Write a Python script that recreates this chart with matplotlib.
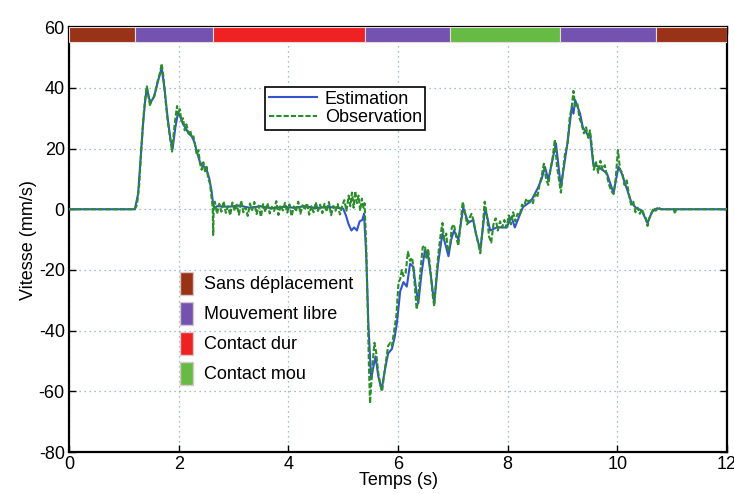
import matplotlib
matplotlib.use("Agg")
import matplotlib.pyplot as plt
from matplotlib.patches import Patch

plt.rcParams["font.family"] = ["Liberation Sans", "DejaVu Sans"]
plt.rcParams["font.size"] = 13
plt.rcParams["axes.unicode_minus"] = False

# phases de la tâche (bande du haut)
phase_debut = [0, 1.2, 2.63, 5.4, 6.95, 8.96, 10.71]
phase_fin = [1.2, 2.63, 5.4, 6.95, 8.96, 10.71, 12]
phase_type = ["Sans déplacement", "Mouvement libre", "Contact dur", "Mouvement libre",
              "Contact mou", "Mouvement libre", "Sans déplacement"]
phase_noms = ["Sans déplacement", "Mouvement libre", "Contact dur", "Contact mou"]
phase_couleurs = ["#993318", "#7352b0", "#ee2222", "#66bb44"]

# vitesse estimée
t_est = [0, 1.2, 1.26, 1.3, 1.35, 1.39, 1.42, 1.48, 1.55, 1.62, 1.69, 1.74, 1.8, 1.85, 1.89,
         1.94, 1.99, 2.04, 2.08, 2.12, 2.18, 2.24, 2.29, 2.33, 2.38, 2.42, 2.47, 2.51, 2.56,
         2.6, 2.63, 2.66, 2.7, 2.9, 3.1, 3.3, 3.5, 3.7, 3.9, 4.1, 4.3, 4.5, 4.7, 4.9, 5.0,
         5.05, 5.1, 5.15, 5.2, 5.25, 5.3, 5.35, 5.38, 5.42, 5.46, 5.51, 5.55, 5.59, 5.64,
         5.7, 5.76, 5.82, 5.89, 5.94, 5.98, 6.04, 6.1, 6.16, 6.22, 6.28, 6.32, 6.37, 6.43,
         6.49, 6.55, 6.6, 6.66, 6.73, 6.81, 6.87, 6.92, 6.97, 7.02, 7.1, 7.19, 7.28, 7.37,
         7.42, 7.5, 7.59, 7.68, 7.8, 7.98, 8.07, 8.13, 8.28, 8.41, 8.45, 8.55, 8.62, 8.68,
         8.74, 8.88, 8.97, 9.08, 9.17, 9.2, 9.23, 9.32, 9.37, 9.47, 9.5, 9.56, 9.65, 9.74,
         9.81, 9.93, 10.02, 10.08, 10.18, 10.26, 10.35, 10.44, 10.55, 10.63, 10.72, 10.8, 12]
v_est = [0, 0, 5, 15, 28, 36, 40, 35, 37, 42, 46.5, 40, 30, 23, 20,
         27, 32, 30, 28, 27, 25, 24, 22, 19, 16, 14.5, 14, 13, 10,
         6, 1.5, 0.5, 1, 0.8, 1.2, 0.5, 1.0, 0.3, 0.8, 0.5, 1.0, 0.4, 0.8, 0.5, 0.2,
         -2, -5, -7, -6, -7, -4, -3.5, -1.5, -15, -38, -56, -52, -48.5, -55,
         -59.5, -53, -47.5, -46, -42, -37.5, -27, -24, -25.5, -18, -19, -25, -31, -21,
         -13.5, -15.5, -22, -31, -18, -8, -12, -15.5, -10, -7, -10, 0.5, -4.5, -3.5,
         -8, -13.5, 0.5, -7, -6, -6, -2.5, -6, 0.8, 2.4, 3.5, 7, 10, 14,
         9.6, 21.7, 7.3, 20.5, 33.7, 31.5, 36, 31.5, 27, 24.3, 25, 15, 14, 12.8,
         11.8, 5.3, 14, 11.8, 6.3, 2, 0.3, -0.3, -4.6, -0.9, 0.3, 0, 0]

# vitesse observée
t_obs = [0, 1.2, 1.24, 1.28, 1.32, 1.36, 1.4, 1.42, 1.45, 1.48, 1.51, 1.55, 1.58, 1.62, 1.66,
         1.69, 1.72, 1.76, 1.8, 1.84, 1.88, 1.91, 1.94, 1.97, 1.99, 2.02, 2.05, 2.08, 2.11,
         2.14, 2.18, 2.21, 2.24, 2.27, 2.3, 2.33, 2.36, 2.39, 2.42, 2.45, 2.48, 2.51, 2.54,
         2.57, 2.6, 2.62, 2.63, 2.64,
         2.66, 2.7, 2.74, 2.78, 2.82, 2.86, 2.9, 2.94, 2.98, 3.02, 3.06, 3.1, 3.14, 3.18,
         3.22, 3.26, 3.3, 3.34, 3.38, 3.42, 3.46, 3.5, 3.54, 3.58, 3.62, 3.66, 3.7, 3.74,
         3.78, 3.82, 3.86, 3.9, 3.94, 3.98, 4.02, 4.06, 4.1, 4.14, 4.18, 4.22, 4.26, 4.3,
         4.34, 4.38, 4.42, 4.46, 4.5, 4.54, 4.58, 4.62, 4.66, 4.7, 4.74, 4.78, 4.82, 4.86,
         4.9, 4.94, 4.98, 5.02, 5.06, 5.1, 5.13, 5.16, 5.19, 5.22, 5.25, 5.28, 5.31, 5.34,
         5.37, 5.39,
         5.42, 5.45, 5.47, 5.49, 5.51, 5.54, 5.57, 5.6, 5.64, 5.68, 5.71, 5.75, 5.79, 5.82,
         5.86, 5.89, 5.93, 5.97, 6.01, 6.04, 6.07, 6.1, 6.14, 6.18, 6.22, 6.26, 6.3, 6.34,
         6.37, 6.41, 6.45, 6.49, 6.52, 6.55, 6.59, 6.63, 6.66, 6.7, 6.74, 6.78, 6.81, 6.84,
         6.88, 6.91, 6.95, 6.98, 7.02, 7.06, 7.1, 7.14, 7.18, 7.22, 7.26, 7.3, 7.34, 7.38,
         7.42, 7.46, 7.5, 7.54, 7.58, 7.62, 7.66, 7.7, 7.74, 7.78, 7.82, 7.86, 7.9, 7.94,
         7.98, 8.02, 8.06, 8.1, 8.14, 8.18, 8.22, 8.26, 8.3, 8.34, 8.38,
         8.42, 8.46, 8.5, 8.54, 8.58, 8.62, 8.66, 8.7, 8.74, 8.78, 8.82, 8.86, 8.9, 8.94,
         8.97, 9.01, 9.05, 9.09, 9.13, 9.17, 9.2, 9.23, 9.27, 9.31, 9.35, 9.39, 9.43, 9.47,
         9.5, 9.54, 9.57, 9.61, 9.65, 9.69, 9.73, 9.77, 9.81, 9.85, 9.89, 9.93, 9.97, 10.01,
         10.05, 10.09, 10.13, 10.17, 10.21, 10.25, 10.29, 10.33, 10.37, 10.41, 10.45, 10.49,
         10.52, 10.55, 10.58, 10.62, 10.66, 10.7, 10.75, 10.8, 11.03, 11.05, 11.07, 12]
v_obs = [0, 0, 1.5, 8, 20, 31, 38, 40.5, 37, 34, 36.5, 37, 39, 42.5, 45,
         48, 44, 36, 29, 24, 19, 25, 30, 34, 31, 33, 29, 30, 26,
         28, 25, 26, 23.5, 24, 21, 18, 19.5, 15, 13, 15.5, 12.5, 14, 10,
         8.5, 4, 0.5, -8.5, 2,
         2.5, -1.5, 1.8, -0.8, 2.6, -1.2, 1.0, -2.0, 2.2, -0.5, 1.5, -1.8, 2.8, -1.0,
         0.6, -2.2, 1.9, -0.3, 2.4, -1.6, 1.2, -2.5, 1.7, -0.9, 2.0, -1.4, 0.8, -0.6,
         2.7, -1.9, 1.4, -0.4, 2.1, -1.1, 1.6, -2.3, 0.9, -0.7, 2.5, -1.5, 1.3, -0.2,
         2.0, -1.8, 1.0, -1.0, 2.3, -0.6, 1.5, -1.3, 1.8, -0.8, 2.4, -2.0, 1.1, -0.5,
         1.7, -1.7, 0.9, 3.0, -0.5, 4.5, 1.0, 5.5, 0.5, 6.0, 2.0, 4.5, -0.5, 3.5,
         0.5, 2.0,
         -12, -35, -52, -64, -58, -50, -44, -47, -54, -58, -60, -54, -49, -45,
         -44, -45, -40, -35, -24, -23, -20, -22, -21, -14, -17, -16, -24, -33,
         -29, -20, -12.5, -12, -16, -13, -20, -28, -32, -22, -14, -8, -4.5, -10,
         -8, -14, -12, -6, -5, -9, -12, -5, 2.5, -1, -5, -3, -1.5, -4,
         -8, -11, -14.5, -7, 2.5, -2, -9, -11, -5, -3, -7, -4, -6, -3.5,
         -6, -2, -5, -1, -4, -1.5, -2, 1.5, 1, 3.5, 2.5,
         3, 2, 5, 4, 8, 11, 15, 10, 8, 13, 17, 23, 14, 9,
         5.5, 13, 19, 21, 30, 34, 39, 34, 35, 30, 28, 25, 27, 23.5,
         26, 20, 13, 15.5, 12, 16, 13, 14.5, 11, 8, 6, 5, 10, 19.5,
         13, 12, 8, 9.5, 5, 1.5, 2.5, -1, 0.5, -1.5, 0, -2,
         -3, -5.5, -3, -1.5, 0.5, -0.5, 0.5, 0, 0, -1.5, 0, 0]

fig = plt.figure(figsize=(7.34, 4.94), dpi=100)
ax = fig.add_axes([0.094, 0.085, 0.8965, 0.86])

# bande des phases
for d, f, nom in zip(phase_debut, phase_fin, phase_type):
    c = phase_couleurs[phase_noms.index(nom)]
    ax.add_patch(plt.Rectangle((d, 55), f - d, 5, facecolor=c, edgecolor="#e8d8d8",
                               linewidth=0.8, zorder=3))

ax.plot(t_est, v_est, color="#3355cc", linewidth=1.5, label="Estimation", zorder=4)
ax.plot(t_obs, v_obs, color="#2a8c2a", linewidth=1.5, linestyle=(0, (2.5, 1.0)),
        label="Observation", zorder=5)

ax.set_xlim(0, 12)
ax.set_ylim(-80, 60)
ax.set_xticks(range(0, 13, 2))
ax.set_yticks(range(-80, 61, 20))
ax.set_xlabel("Temps (s)", labelpad=-1)
ax.set_ylabel("Vitesse (mm/s)", labelpad=1)
ax.grid(True, linestyle=(0, (1, 3)), color="#8aa6b8", linewidth=0.9)
ax.tick_params(direction="in", top=True, right=True, length=5, width=1, pad=3)
for s in ax.spines.values():
    s.set_linewidth(1.6)

leg1 = ax.legend(loc="upper left", bbox_to_anchor=(0.298, 0.859), borderaxespad=0,
                 fancybox=False, edgecolor="black", framealpha=1, handlelength=2.7,
                 handletextpad=0.4, labelspacing=0.1, borderpad=0.2)
leg1.get_frame().set_linewidth(1.2)
ax.add_artist(leg1)

poignees = [Patch(facecolor=c, edgecolor="#d8c8c8") for c in phase_couleurs]
ax.legend(poignees, phase_noms, loc="upper left", bbox_to_anchor=(0.168, 0.424),
          borderaxespad=0, frameon=False, handlelength=0.75, handleheight=1.6,
          handletextpad=0.6, labelspacing=0.37, borderpad=0)

fig.savefig("out.png", dpi=100)
